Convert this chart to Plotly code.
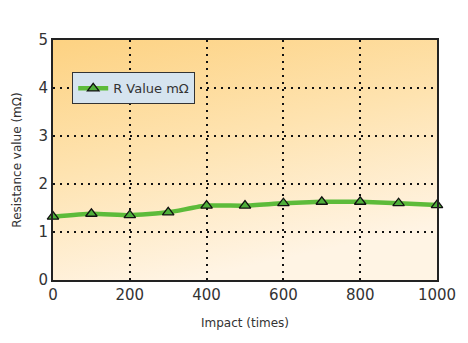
import base64
import plotly.graph_objects as go

impacts = [0, 100, 200, 300, 400, 500, 600, 700, 800, 900, 1000]
r_values = [1.32, 1.38, 1.35, 1.41, 1.55, 1.55, 1.60, 1.63, 1.63, 1.60, 1.56]
x_ticks = [0, 200, 400, 600, 800, 1000]
y_ticks = [0, 1, 2, 3, 4, 5]

svg = ('<svg xmlns="http://www.w3.org/2000/svg" width="400" height="240" preserveAspectRatio="none">'
       '<defs><linearGradient id="g" x1="0" y1="0" x2="0.35" y2="1">'
       '<stop offset="0" stop-color="#FDD282"/>'
       '<stop offset="0.5" stop-color="#FEE3B0"/>'
       '<stop offset="1" stop-color="#FFF4E4"/>'
       '</linearGradient></defs>'
       '<rect width="400" height="240" fill="url(#g)"/></svg>')
src = "data:image/svg+xml;base64," + base64.b64encode(svg.encode()).decode()

fig = go.Figure()
fig.add_trace(go.Scatter(
    x=impacts, y=r_values, mode="lines+markers", name="R Value mΩ",
    line=dict(color="#5DBB3A", width=4.5, shape="spline", smoothing=0.5),
    marker=dict(symbol="triangle-up", size=10, color="#4FAF3A",
                line=dict(color="#111", width=1.3)),
    cliponaxis=False,
))

fig.add_layout_image(dict(source=src, xref="paper", yref="paper", x=0, y=1,
                          sizex=1, sizey=1, sizing="stretch", layer="below",
                          xanchor="left", yanchor="top"))

axis_common = dict(showline=True, linecolor="#222", linewidth=2, mirror=True,
                   showgrid=True, gridcolor="#111", griddash="2px,5px", gridwidth=1.6,
                   zeroline=False, ticks="", tickfont=dict(size=15, color="#333"))

fig.update_layout(
    width=468, height=343,
    margin=dict(l=53, r=29, t=40, b=63),
    paper_bgcolor="white", plot_bgcolor="rgba(0,0,0,0)",
    font=dict(family="DejaVu Sans", color="#333"),
    showlegend=True,
    legend=dict(x=0.05, y=0.865, xanchor="left", yanchor="top",
                bgcolor="#D6E4EF", bordercolor="#333", borderwidth=1,
                font=dict(size=13, color="#333"), itemwidth=30),
    xaxis=dict(range=[0, 1000], tickvals=x_ticks, ticktext=[str(v) for v in x_ticks],
               title=dict(text="Impact (times)", font=dict(size=12), standoff=16),
               **axis_common),
    yaxis=dict(range=[0, 5], tickvals=y_ticks, ticktext=[str(v) for v in y_ticks],
               title=dict(text="Resistance value (mΩ)", font=dict(size=12), standoff=14),
               **axis_common),
)

fig.write_html("out.html")
